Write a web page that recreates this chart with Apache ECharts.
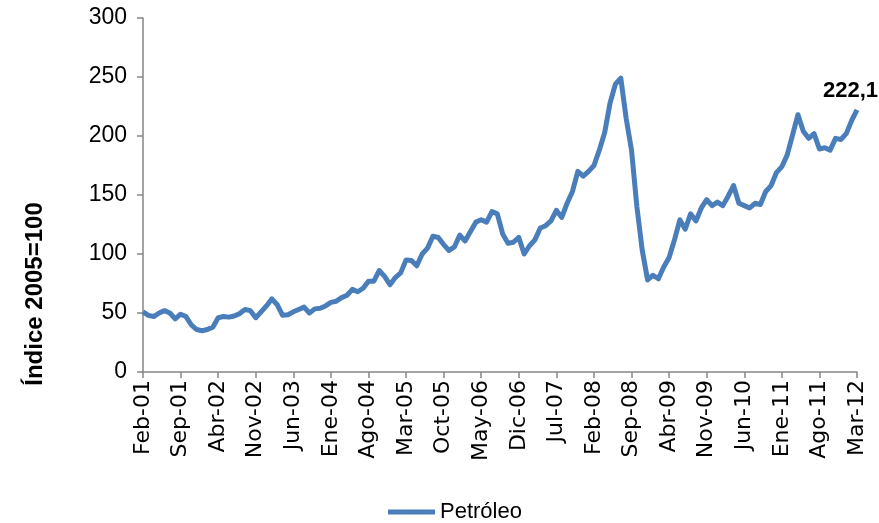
<!DOCTYPE html>
<html>
<head>
<meta charset="utf-8">
<script src="https://cdn.jsdelivr.net/npm/echarts@6/dist/echarts.min.js"></script>
<style>
  html, body { margin: 0; padding: 0; background: #fff; }
  #chart { width: 879px; height: 523px; }
</style>
</head>
<body>
<div id="chart"></div>
<script>
// meses en español, serie mensual Feb-01 .. Mar-12
const monthNames = ['Ene', 'Feb', 'Mar', 'Abr', 'May', 'Jun', 'Jul', 'Ago', 'Sep', 'Oct', 'Nov', 'Dic'];
const startYear = 2001;
const startMonth = 1; // Feb

// índice del petróleo (2005=100)
const petroleo = [
  51, 48, 47, 50, 52, 50, 45, 49, 47, 40, 36, 35,
  36, 38, 46, 47, 46.5, 47.5, 49.5, 53, 52, 46, 51, 56,
  62, 57, 48, 48.5, 51, 53, 55, 50, 53.5, 54, 56, 59,
  60, 63, 65, 70, 68, 71, 77, 77, 86, 81, 74, 80,
  84, 95, 94.5, 90, 100, 105, 115, 114, 108, 103, 106, 116,
  111, 119, 127, 129, 127, 136, 134, 117, 109, 110, 114, 100,
  107, 112, 122, 124, 128, 137, 131, 143, 153, 170, 166, 170,
  175, 188, 203, 228, 244, 249, 215, 188, 140, 103, 78, 82,
  79, 89, 97, 112, 129, 121, 134, 128, 139, 146, 141, 144,
  141, 149, 158, 143, 141, 139, 143, 142, 153, 158, 169, 174,
  184, 201, 218, 204, 198, 202, 189, 190, 188, 198, 197, 202,
  213, 222.1
];

const yTicks = [0, 50, 100, 150, 200, 250, 300];

const categories = petroleo.map((_, i) => {
  const m = (startMonth + i) % 12;
  const y = startYear + Math.floor((startMonth + i) / 12);
  return monthNames[m] + '-' + String(y % 100).padStart(2, '0');
});

const chart = echarts.init(document.getElementById('chart'));

const lastIdx = petroleo.length - 1;
const seriesData = petroleo.map((v, i) => {
  if (i !== lastIdx) return v;
  // solo el último valor lleva etiqueta
  return {
    value: v,
    label: {
      show: true,
      position: [21, -8],
      align: 'right',
      verticalAlign: 'bottom',
      formatter: p => String(p.value).replace('.', ','),
      fontFamily: 'Liberation Sans',
      fontWeight: 'bold',
      fontSize: 22,
      color: '#000'
    }
  };
});

chart.setOption({
  animation: false,
  grid: { left: 143, right: 22, top: 18, bottom: 151, containLabel: false },
  legend: {
    left: 383,
    top: 496,
    icon: 'rect',
    itemWidth: 47,
    itemHeight: 5,
    itemGap: 10,
    textStyle: { fontFamily: 'Liberation Sans', fontSize: 22, color: '#000' },
    data: ['Petróleo']
  },
  xAxis: {
    type: 'category',
    data: categories,
    boundaryGap: false,
    axisLine: { lineStyle: { color: '#868686', width: 1.5 } },
    axisTick: { show: true, interval: 6, length: 6, lineStyle: { color: '#868686', width: 1.5 } },
    axisLabel: {
      interval: 6,
      rotate: 90,
      margin: 8,
      fontFamily: 'DejaVu Sans',
      fontSize: 22,
      color: '#000'
    },
    splitLine: { show: false }
  },
  yAxis: {
    type: 'value',
    min: yTicks[0],
    max: yTicks[yTicks.length - 1],
    interval: 50,
    axisLine: { show: true, lineStyle: { color: '#868686', width: 1.5 } },
    axisTick: { show: true, length: 6, lineStyle: { color: '#868686', width: 1.5 } },
    axisLabel: {
      margin: 16,
      fontFamily: 'Liberation Sans',
      fontSize: 23,
      color: '#000'
    },
    splitLine: { show: false }
  },
  graphic: [
    {
      type: 'text',
      x: 35,
      y: 294,
      rotation: Math.PI / 2,
      style: {
        text: 'Índice 2005=100',
        font: 'bold 24px "Liberation Sans"',
        fill: '#000',
        align: 'center',
        verticalAlign: 'middle'
      }
    }
  ],
  series: [
    {
      name: 'Petróleo',
      type: 'line',
      data: seriesData,
      showSymbol: true,
      symbol: 'circle',
      symbolSize: 0,
      labelLayout: { hideOverlap: false },
      lineStyle: { color: '#4a7ebb', width: 5, join: 'round' },
      itemStyle: { color: '#4a7ebb' }
    }
  ]
});
</script>
</body>
</html>
